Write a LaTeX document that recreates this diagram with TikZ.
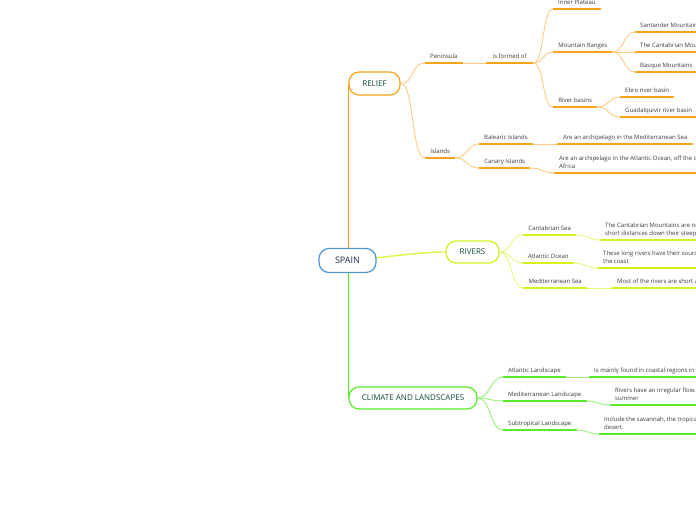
\documentclass[tikz,border=0pt]{standalone}
\usepackage{fontspec}
\setmainfont{Open Sans}
\usetikzlibrary{backgrounds}
\definecolor{orA}{HTML}{F9A21C}
\definecolor{orL}{HTML}{FDCB80}
\definecolor{ygA}{HTML}{D8F01E}
\definecolor{ygL}{HTML}{E6F77A}
\definecolor{grA}{HTML}{5AEA28}
\definecolor{grL}{HTML}{98F27A}
\definecolor{blB}{HTML}{4E93D2}
\definecolor{navy}{HTML}{1C2B4F}
\definecolor{dgreen}{HTML}{134A3C}
\definecolor{txt}{HTML}{3A3A3A}
\tikzset{
  lbl/.style={inner xsep=5pt, inner ysep=3pt, text depth=1.5pt, align=left,
    anchor=south west, font=\fontsize{6}{8}\selectfont, text=txt},
  box/.style={draw, fill=white, rounded corners=10pt, line width=1.2pt,
    font=\fontsize{8}{10}\selectfont, text=dgreen, inner sep=0pt},
  ulO/.style={orA, line width=1.8pt},
  ulY/.style={ygA, line width=1.8pt},
  ulG/.style={grA, line width=1.8pt},
  cO/.style={orL, line width=0.9pt},
  cY/.style={ygL, line width=0.9pt},
  cG/.style={grL, line width=0.9pt},
}
\begin{document}
\begin{tikzpicture}[x=1pt,y=-1pt]
\path[use as bounding box] (0,0) rectangle (696,520);
\clip (0,0) rectangle (696,520);
\coordinate (edgeR) at (700,0);

% main boxes
\node[box, draw=blB, text=navy, minimum width=57pt, minimum height=24pt,
  font=\fontsize{9}{11}\selectfont] (spain) at (347.5,260.5) {SPAIN};
\node[box, draw=orA, minimum width=51pt, minimum height=23pt] (relief) at (374.5,83.5) {RELIEF};
\node[box, draw=ygA, minimum width=53pt, minimum height=22pt] (rivers) at (472.5,252) {RIVERS};
\node[box, draw=grA, minimum width=128pt, minimum height=22pt] (climate) at (413,398) {CLIMATE AND LANDSCAPES};

% RELIEF branch
\node[lbl, minimum width=37pt] (pen) at (425,63) {Peninsula};
\node[lbl, minimum width=47pt] (formed) at (486,63) {is formed of};
\node[lbl, minimum width=47pt] (inner) at (553,9) {Inner Plateau};
\node[lbl, minimum width=59pt] (mount) at (553,52) {Mountain Ranges};
\node[lbl, minimum width=44pt] (basins) at (553,107) {River basins};
\node[lbl] (sant) at (635,32) {Santander Mountains};
\node[lbl] (cantm) at (635,52) {The Cantabrian Mountains};
\node[lbl] (basque) at (635,72) {Basque Mountains};
\node[lbl, minimum width=53pt] (ebro) at (620,97) {Ebro river basin};
\node[lbl] (guad) at (620,117) {Guadalquivir river basin};
\node[lbl, minimum width=30pt] (islands) at (425,158) {Islands};
\node[lbl, minimum width=53pt] (bal) at (479,144) {Balearic Islands};
\node[lbl, minimum width=51pt] (can) at (479,168) {Canary Islands};
\node[lbl, minimum width=136pt] (balT) at (557,144) {Are an archipelago in the Mediterranean Sea};
\node[lbl] (canT) at (554,173) {Are an archipelago in the Atlantic Ocean, off the coast of\\Africa};

% RIVERS branch
\node[lbl, minimum width=53pt] (cs) at (523,235) {Cantabrian Sea};
\node[lbl, minimum width=50pt] (ao) at (523,263) {Atlantic Ocean};
\node[lbl, minimum width=64pt] (ms) at (523,288) {Mediterranean Sea};
\node[lbl] (csT) at (600,240) {The Cantabrian Mountains are near\\short distances down their steep};
\node[lbl] (aoT) at (598,268) {These long rivers have their source\\the coast};
\node[lbl] (msT) at (612,288) {Most of the rivers are short and};

% CLIMATE branch
\node[lbl, minimum width=62pt] (al) at (503,377) {Atlantic Landscape};
\node[lbl, minimum width=83pt] (ml) at (503,401) {Mediterranean Landscape};
\node[lbl, minimum width=72pt] (sl) at (503,430) {Subtropical Landscape};
\node[lbl] (alT) at (589,377) {Is mainly found in coastal regions in the};
\node[lbl] (mlT) at (610,405) {Rivers have an irregular flow. They\\summer};
\node[lbl] (slT) at (599,434) {Include the savannah, the tropical\\desert.};

\begin{scope}[on background layer]
% trunks
\draw[orA, line width=1.8pt] (relief.west |- spain.north) -- (relief.west);
\draw[grA, line width=1.8pt] (climate.west |- spain.south) -- (climate.west);
\draw[ygA!80!white, line width=1.4pt] (spain.center) .. controls (400,256) and (420,252) .. (rivers.west);

% underlines (fixed length)
\foreach \n in {pen,formed,inner,mount,basins,ebro,islands,bal,can,balT}
  \draw[ulO] (\n.south west) -- (\n.south east);
\foreach \n in {sant,cantm,basque,guad,canT}
  \draw[ulO] (\n.south west) -- (\n.south west -| edgeR);
\foreach \n in {cs,ao,ms}
  \draw[ulY] (\n.south west) -- (\n.south east);
\foreach \n in {csT,aoT,msT}
  \draw[ulY] (\n.south west) -- (\n.south west -| edgeR);
\foreach \n in {al,ml,sl}
  \draw[ulG] (\n.south west) -- (\n.south east);
\foreach \n in {alT,mlT,slT}
  \draw[ulG] (\n.south west) -- (\n.south west -| edgeR);

% connectors RELIEF
\draw[cO] (relief.east) .. controls +(14,0) and +(-14,0) .. (pen.south west);
\draw[cO] (relief.east) .. controls +(14,0) and +(-14,0) .. (islands.south west);
\draw[cO] (pen.south east) -- (formed.south west);
\draw[cO] (formed.south east) .. controls +(11,0) and +(-11,0) .. (inner.south west);
\draw[cO] (formed.south east) .. controls +(11,0) and +(-11,0) .. (mount.south west);
\draw[cO] (formed.south east) .. controls +(11,0) and +(-11,0) .. (basins.south west);
\draw[cO] (mount.south east) .. controls +(12,0) and +(-12,0) .. (sant.south west);
\draw[cO] (mount.south east) -- (cantm.south west);
\draw[cO] (mount.south east) .. controls +(12,0) and +(-12,0) .. (basque.south west);
\draw[cO] (basins.south east) .. controls +(12,0) and +(-12,0) .. (ebro.south west);
\draw[cO] (basins.south east) .. controls +(12,0) and +(-12,0) .. (guad.south west);
\draw[cO] (islands.south east) .. controls +(12,0) and +(-12,0) .. (bal.south west);
\draw[cO] (islands.south east) .. controls +(12,0) and +(-12,0) .. (can.south west);
\draw[cO] (bal.south east) -- (balT.south west);
\draw[cO] (can.south east) .. controls +(12,0) and +(-12,0) .. (canT.south west);

% connectors RIVERS
\draw[cY] (rivers.east) .. controls +(12,0) and +(-12,0) .. (cs.south west);
\draw[cY] (rivers.east) .. controls +(12,0) and +(-12,0) .. (ao.south west);
\draw[cY] (rivers.east) .. controls +(12,0) and +(-12,0) .. (ms.south west);
\draw[cY] (cs.south east) .. controls +(12,0) and +(-12,0) .. (csT.south west);
\draw[cY] (ao.south east) .. controls +(12,0) and +(-12,0) .. (aoT.south west);
\draw[cY] (ms.south east) -- (msT.south west);

% connectors CLIMATE
\draw[cG] (climate.east) .. controls +(13,0) and +(-13,0) .. (al.south west);
\draw[cG] (climate.east) .. controls +(13,0) and +(-13,0) .. (ml.south west);
\draw[cG] (climate.east) .. controls +(13,0) and +(-13,0) .. (sl.south west);
\draw[cG] (al.south east) -- (alT.south west);
\draw[cG] (ml.south east) .. controls +(12,0) and +(-12,0) .. (mlT.south west);
\draw[cG] (sl.south east) .. controls +(12,0) and +(-12,0) .. (slT.south west);
\end{scope}
\end{tikzpicture}
\end{document}
